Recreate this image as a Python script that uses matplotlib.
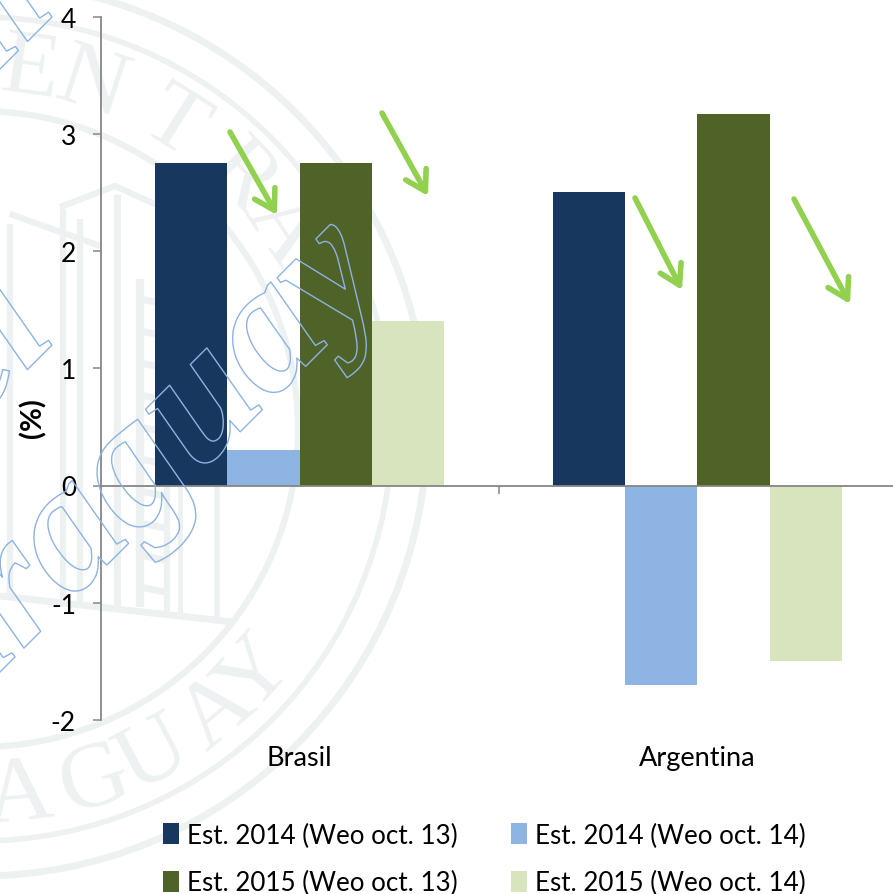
import numpy as np
import matplotlib
matplotlib.use("Agg")
import matplotlib.pyplot as plt
from matplotlib.patches import Circle
import matplotlib.patheffects as pe

W, H = 893, 895

categories = ["Brasil", "Argentina"]
est_2014_oct13 = [2.75, 2.5]
est_2014_oct14 = [0.3, -1.7]
est_2015_oct13 = [2.75, 3.17]
est_2015_oct14 = [1.4, -1.5]
yticks = [-2, -1, 0, 1, 2, 3, 4]

plt.rcParams["font.family"] = ["Lato", "DejaVu Sans"]
plt.rcParams["axes.unicode_minus"] = False
fig = plt.figure(figsize=(W / 100, H / 100), dpi=100)

# sello de fondo, en pixeles de la imagen
bg = fig.add_axes([0, 0, 1, 1], zorder=0)
bg.set_xlim(0, W)
bg.set_ylim(H, 0)
bg.axis("off")
seal = "#edf1f2"
cx, cy = -20, 430
for r, lw in [(447, 5), (412, 4), (318, 4.5)]:
    bg.add_patch(Circle((cx, cy), r, fill=False, ec=seal, lw=lw))

top_letters = [("E", 82), ("N", 72), ("T", 57.6), ("R", 44), ("A", 33.7)]
low_letters = [("A", -84), ("G", -72), ("U", -62), ("A", -50), ("Y", -41.6)]
for ch, ang in top_letters + low_letters:
    a = np.radians(ang)
    rot = ang - 90 if ang > 0 else ang + 90
    rad = 362 if ang > 0 else 370
    bg.text(cx + rad * np.cos(a), cy - rad * np.sin(a), ch, rotation=rot,
            rotation_mode="anchor", ha="center", va="center", color=seal,
            fontsize=68, family="Liberation Serif")

# edificio del sello
for xs, ys, lw in [
    ([60, 115, 205], [208, 187, 228], 4.5),
    ([10, 100], [215, 247], 4.5),
    ([10, 10], [225, 597], 4.5),
    ([63, 63], [210, 603], 4.5),
    ([80, 80], [220, 605], 4.5),
    ([117, 117], [195, 610], 5),
    ([0, 233], [597, 623], 5),
    ([180, 180], [440, 618], 3.5),
    ([217, 217], [440, 620], 4),
    ([140, 140], [280, 608], 6),
    ([167, 167], [290, 612], 4.5),
]:
    bg.plot(xs, ys, color=seal, lw=lw, solid_capstyle="butt")
for y in range(300, 600, 32):
    bg.plot([140, 170], [y, y + 6], color=seal, lw=5, solid_capstyle="butt")

# grafico principal
left, right = 101, 896
top, bottom = 17.5, 721
ax = fig.add_axes([left / W, 1 - bottom / H, (right - left) / W, (bottom - top) / H], zorder=1)
ax.patch.set_visible(False)

x = np.arange(len(categories))
w = 0.182
b1 = ax.bar(x - 1.5 * w, est_2014_oct13, w, color="#17375e", label="Est. 2014 (Weo oct. 13)")
b2 = ax.bar(x - 0.5 * w, est_2014_oct14, w, color="#8eb4e3", label="Est. 2014 (Weo oct. 14)")
b3 = ax.bar(x + 0.5 * w, est_2015_oct13, w, color="#4f6228", label="Est. 2015 (Weo oct. 13)")
b4 = ax.bar(x + 1.5 * w, est_2015_oct14, w, color="#d7e4bd", label="Est. 2015 (Weo oct. 14)")

ax.set_xlim(-0.5, 1.5)
ax.set_ylim(-2, 4)
ax.set_yticks(yticks)
ax.set_xticks([0.5])
ax.set_xticklabels([""])
for s in ["top", "right"]:
    ax.spines[s].set_visible(False)
ax.spines["bottom"].set_position(("data", 0))
for s in ["left", "bottom"]:
    ax.spines[s].set_color("#868686")
    ax.spines[s].set_linewidth(1.3)
ax.tick_params(axis="both", color="#868686", width=1.1, length=6)
ax.tick_params(axis="y", labelsize=19, pad=12)
ax.set_ylabel("(%)", fontsize=21, fontweight="bold", va="center")
ax.yaxis.set_label_coords(-0.0855, 0.43)

for xi, name in zip(x, categories):
    ax.text(xi, -2.32, name, ha="center", va="center", fontsize=19.5, clip_on=False)

ax.legend([b1, b3, b2, b4],
          [b1.get_label(), b3.get_label(), b2.get_label(), b4.get_label()],
          ncol=2, frameon=False, fontsize=18.7, loc="upper left",
          bbox_to_anchor=(0.078, -0.146), handlelength=0.62, handleheight=0.85,
          handletextpad=0.30, columnspacing=2.05, labelspacing=0.87,
          borderpad=0, borderaxespad=0)

# capa superior: flechas y marca de agua
fg = fig.add_axes([0, 0, 1, 1], zorder=2)
fg.set_xlim(0, W)
fg.set_ylim(H, 0)
fg.axis("off")
for start, end in [((230, 133), (277, 216)), ((382, 114), (428, 197)),
                   ((635, 199), (682, 291)), ((794, 200), (850, 305))]:
    fg.annotate("", xy=end, xytext=start,
                arrowprops=dict(arrowstyle="->,head_length=1.0,head_width=0.6",
                                mutation_scale=14, color="#92d050", lw=4,
                                shrinkA=0, shrinkB=0))

outline = [pe.Stroke(linewidth=1.0, foreground="#8db3e2")]
for txt, px, py in [("Paraguay", 390, 283), ("del", 60, 338), ("Central", 60, 10)]:
    fg.text(px, py, txt, rotation=45, rotation_mode="anchor", ha="right", va="baseline",
            fontsize=130, family="Liberation Serif", style="italic", weight="bold",
            color="none", path_effects=outline, clip_on=True)

fig.savefig("out.png", dpi=100)
